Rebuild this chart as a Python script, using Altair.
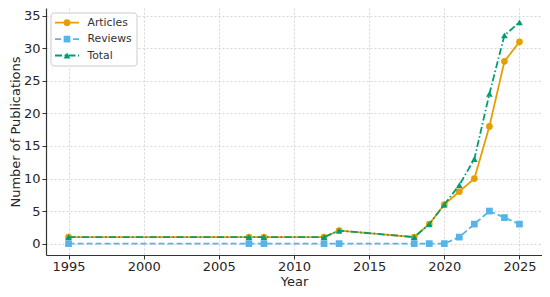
import altair as alt
import pandas as pd

years = [1995, 2007, 2008, 2012, 2013, 2018, 2019, 2020, 2021, 2022, 2023, 2024, 2025]
articles = [1, 1, 1, 1, 2, 1, 3, 6, 8, 10, 18, 28, 31]
reviews = [0, 0, 0, 0, 0, 0, 0, 0, 1, 3, 5, 4, 3]
total = [1, 1, 1, 1, 2, 1, 3, 6, 9, 13, 23, 32, 34]

series_names = ["Articles", "Reviews", "Total"]
series_colors = ["#E69F00", "#56B4E9", "#009E73"]
series_shapes = ["circle", "square", "triangle-up"]
series_dash = [[1, 0], [6, 3], [7, 2.5, 1.5, 2.5]]

rows = []
for name, vals in zip(series_names, [articles, reviews, total]):
    for y, v in zip(years, vals):
        rows.append({"Year": y, "Count": v, "series": name})
df = pd.DataFrame(rows)
leg = pd.DataFrame({"series": series_names, "idx": list(range(len(series_names)))})

FONT = "DejaVu Sans"

xscale = alt.Scale(domain=[1993.5, 2026.5], nice=False, zero=False)
yscale = alt.Scale(domain=[-1.75, 36.2], nice=False, zero=False)

color = alt.Color("series:N", scale=alt.Scale(domain=series_names, range=series_colors), legend=None)
shape = alt.Shape("series:N", scale=alt.Scale(domain=series_names, range=series_shapes), legend=None)
dash = alt.StrokeDash("series:N", scale=alt.Scale(domain=series_names, range=series_dash), legend=None)

xenc = alt.X("Year:Q", scale=xscale, title="Year",
             axis=alt.Axis(values=[1995, 2000, 2005, 2010, 2015, 2020, 2025], format="d",
                           labelPadding=1, titlePadding=2))
yenc = alt.Y("Count:Q", scale=yscale, title="Number of Publications",
             axis=alt.Axis(values=[0, 5, 10, 15, 20, 25, 30, 35], labelPadding=2, titlePadding=1))

layers = []
for name in series_names:
    sub = df[df.series == name]
    line = alt.Chart(sub).mark_line(strokeWidth=1.8).encode(x=xenc, y=yenc, color=color, strokeDash=dash)
    pts = alt.Chart(sub).mark_point(filled=True, size=45, opacity=1).encode(
        x=xenc, y=yenc, color=color, shape=shape)
    layers += [line, pts]

main = alt.layer(*layers)

# legend
ly = alt.Y("idx:Q", scale=alt.Scale(domain=[0, 2], range=[14.7, 47.5], nice=False, zero=False), axis=None)
box = alt.Chart(leg.iloc[:1]).mark_rect(fill="white", fillOpacity=0.85, stroke="#cccccc",
                                        strokeWidth=1, cornerRadius=3).encode(
    x=alt.value(5), x2=alt.value(91), y=alt.value(5), y2=alt.value(58))
lrule = alt.Chart(leg).mark_rule(strokeWidth=1.8).encode(
    x=alt.value(9), x2=alt.value(33), y=ly, color=color, strokeDash=dash)
lpts = alt.Chart(leg).mark_point(filled=True, size=45, opacity=1).encode(
    x=alt.value(21), y=ly, color=color, shape=shape)
ltext = alt.Chart(leg).mark_text(align="left", baseline="middle", font=FONT, fontSize=10.8,
                                 color="#333333").encode(
    x=alt.value(41.5), y=ly, text="series:N")
legend = alt.layer(box, lrule, lpts, ltext)

chart = alt.layer(main, legend).resolve_scale(y="independent").properties(
    width=496, height=247,
    autosize=alt.AutoSizeParams(type="none"),
    padding={"left": 38, "top": 0, "right": 0, "bottom": 40},
).configure_view(stroke=None).configure_axis(
    labelFont=FONT, titleFont=FONT, labelFontSize=13, titleFontSize=13,
    labelColor="#262626", titleColor="#262626", titleFontWeight="normal",
    gridColor="#cccccc", gridDash=[2, 2], gridWidth=0.8,
    domainColor="#333333", domainWidth=1.2, tickColor="#333333", tickSize=4,
).configure_axisX(labelFlush=False)

chart.save("out.html", embed_options={"renderer": "svg", "actions": False})
